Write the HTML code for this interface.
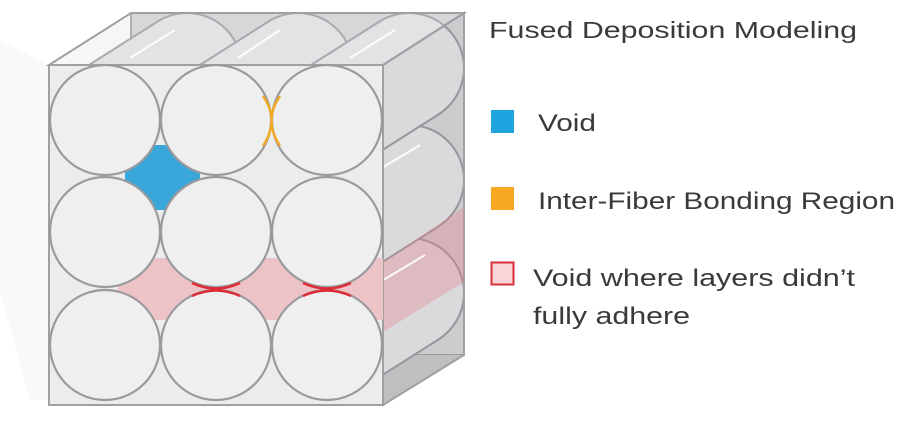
<!DOCTYPE html>
<html><head><meta charset="utf-8"><style>
html,body{margin:0;padding:0;background:#fff;}
svg{display:block;}
text{font-family:"Liberation Sans",sans-serif;fill:#3a3a3a;}
</style></head><body>
<svg width="916" height="430" viewBox="0 0 916 430" xmlns="http://www.w3.org/2000/svg">
<polygon points="0,40 49,30 49,400 30,400 0,290" fill="#f9f9fa"/>
<!-- back wall -->
<polygon points="131,13 464,13 464,355 131,355" fill="#d6d6d8" stroke="#a0a0a4" stroke-width="2"/>
<!-- bottom face -->
<polygon points="49,405 131,355 464,355 383,405" fill="#c8c8ca"/>
<g stroke="#9a9a9e" stroke-width="2" fill="#e6e6e7">
<circle cx="187" cy="293" r="55"/><polygon points="134.6,391.4 75.4,298.6 157.4,246.6 216.6,339.4" stroke="none"/><line x1="75.4" y1="298.6" x2="157.4" y2="246.6"/><line x1="134.6" y1="391.4" x2="216.6" y2="339.4"/>
<circle cx="298" cy="293" r="55"/><polygon points="245.6,391.4 186.4,298.6 268.4,246.6 327.6,339.4" stroke="none"/><line x1="186.4" y1="298.6" x2="268.4" y2="246.6"/><line x1="245.6" y1="391.4" x2="327.6" y2="339.4"/>
<circle cx="409" cy="293" r="55"/><polygon points="356.6,391.4 297.4,298.6 379.4,246.6 438.6,339.4" stroke="none"/><line x1="297.4" y1="298.6" x2="379.4" y2="246.6"/><line x1="356.6" y1="391.4" x2="438.6" y2="339.4"/>
<circle cx="187" cy="180" r="55"/><polygon points="134.6,278.4 75.4,185.6 157.4,133.6 216.6,226.4" stroke="none"/><line x1="75.4" y1="185.6" x2="157.4" y2="133.6"/><line x1="134.6" y1="278.4" x2="216.6" y2="226.4"/>
<circle cx="298" cy="180" r="55"/><polygon points="245.6,278.4 186.4,185.6 268.4,133.6 327.6,226.4" stroke="none"/><line x1="186.4" y1="185.6" x2="268.4" y2="133.6"/><line x1="245.6" y1="278.4" x2="327.6" y2="226.4"/>
<circle cx="409" cy="180" r="55"/><polygon points="356.6,278.4 297.4,185.6 379.4,133.6 438.6,226.4" stroke="none"/><line x1="297.4" y1="185.6" x2="379.4" y2="133.6"/><line x1="356.6" y1="278.4" x2="438.6" y2="226.4"/>
<circle cx="187" cy="68" r="55"/><polygon points="134.6,166.4 75.4,73.6 157.4,21.6 216.6,114.4" stroke="none"/><line x1="75.4" y1="73.6" x2="157.4" y2="21.6"/><line x1="134.6" y1="166.4" x2="216.6" y2="114.4"/>
<circle cx="298" cy="68" r="55"/><polygon points="245.6,166.4 186.4,73.6 268.4,21.6 327.6,114.4" stroke="none"/><line x1="186.4" y1="73.6" x2="268.4" y2="21.6"/><line x1="245.6" y1="166.4" x2="327.6" y2="114.4"/>
<circle cx="409" cy="68" r="55"/><polygon points="356.6,166.4 297.4,73.6 379.4,21.6 438.6,114.4" stroke="none"/><line x1="297.4" y1="73.6" x2="379.4" y2="21.6"/><line x1="356.6" y1="166.4" x2="438.6" y2="114.4"/>
</g>
<polygon points="131,0 916,0 916,430 464,430 464,13 131,13" fill="#fff"/>
<polygon points="0,0 131,0 131,13 49,65 0,65" fill="#fff"/>
<polygon points="0,40 49,65 49,400 30,400 0,290" fill="#f9f9fa"/>
<polygon points="49,65 131,13 464,13 383,65" fill="rgba(220,220,225,0.25)" stroke="#a0a0a4" stroke-width="2"/>
<polygon points="383,65 464,13 464,355 383,405" fill="rgba(120,120,125,0.10)" stroke="#a0a0a4" stroke-width="2"/>
<polygon points="383,262 464,207 464,282 383,332" fill="rgba(230,130,140,0.35)"/>
<g stroke="#fff" stroke-width="2" opacity="0.9">
<line x1="130" y1="58" x2="175" y2="30"/><line x1="238" y1="58" x2="280" y2="30"/><line x1="350" y1="58" x2="395" y2="30"/>
<line x1="255" y1="172" x2="280" y2="158"/><line x1="375" y1="172" x2="420" y2="145"/><line x1="375" y1="285" x2="425" y2="255"/>
</g>
<rect x="49" y="65" width="334" height="340" fill="#ececed" stroke="#a0a0a4" stroke-width="2"/>
<rect x="125" y="145" width="75" height="65" fill="#3aa7da"/>
<rect x="118" y="258" width="265" height="62" fill="#edc3c8"/>
<g fill="#efeff0" stroke="#9a9a9e" stroke-width="2.2">
<circle cx="105" cy="120" r="55"/><circle cx="216" cy="120" r="55"/><circle cx="327" cy="120" r="55"/>
<circle cx="105" cy="232" r="55"/><circle cx="216" cy="232" r="55"/><circle cx="327" cy="232" r="55"/>
<circle cx="105" cy="345" r="55"/><circle cx="216" cy="345" r="55"/><circle cx="327" cy="345" r="55"/>
</g>
<g fill="none" stroke="#f0a928" stroke-width="2.5">
<path d="M 263 96 Q 280 120 263 146"/>
<path d="M 280 96 Q 263 120 280 146"/>
</g>
<g fill="none" stroke="#dd2a35" stroke-width="2.5">
<path d="M 192 283 Q 216 294 240 283"/>
<path d="M 303 283 Q 327 294 351 283"/>
<path d="M 192 296 Q 216 285 240 296"/>
<path d="M 303 296 Q 327 285 351 296"/>
</g>
<text x="489" y="38" font-size="23" textLength="368" lengthAdjust="spacingAndGlyphs">Fused Deposition Modeling</text>
<rect x="491" y="110" width="23" height="23" fill="#1ea4df"/>
<text x="538" y="131" font-size="24" textLength="58" lengthAdjust="spacingAndGlyphs">Void</text>
<rect x="491" y="187" width="23" height="23" fill="#f7a823"/>
<text x="538" y="209" font-size="24" textLength="357" lengthAdjust="spacingAndGlyphs">Inter-Fiber Bonding Region</text>
<rect x="491.5" y="262.5" width="22" height="22" fill="#f9d5d9" stroke="#d8303c" stroke-width="2"/>
<text x="533" y="286" font-size="24" textLength="322" lengthAdjust="spacingAndGlyphs">Void where layers didn’t</text>
<text x="533" y="324" font-size="24" textLength="157" lengthAdjust="spacingAndGlyphs">fully adhere</text>
</svg>
</body></html>
